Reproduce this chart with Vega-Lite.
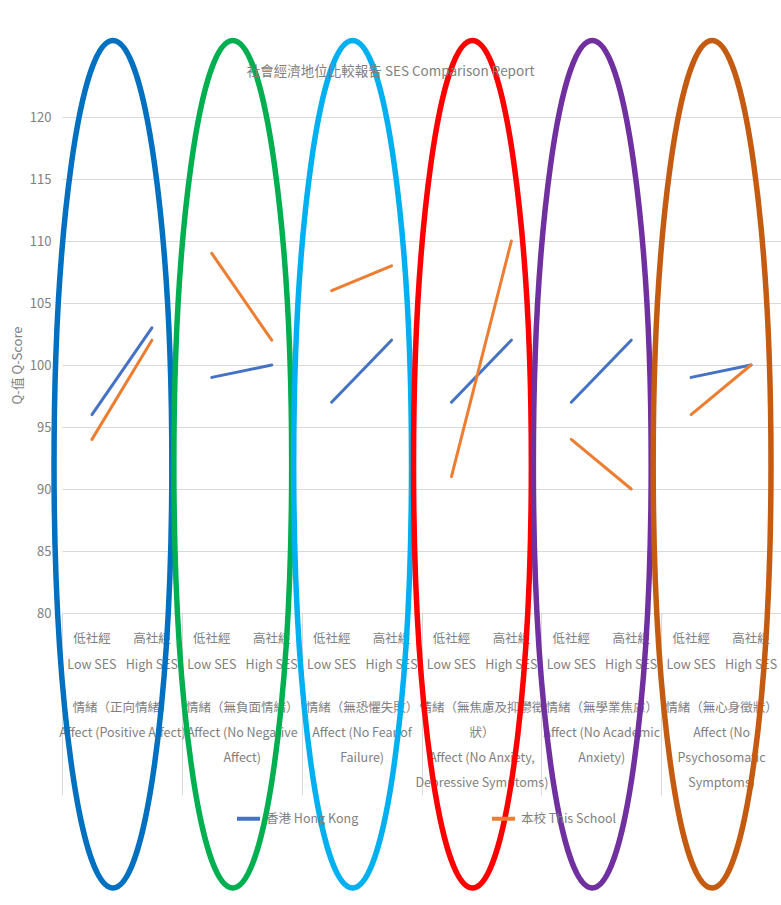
{
  "$schema": "https://vega.github.io/schema/vega-lite/v6.json",
  "width": 719,
  "height": 496,
  "autosize": "none",
  "padding": {"left": 62, "top": 117, "right": 0, "bottom": 292},
  "background": "white",
  "config": {
    "view": {"stroke": null},
    "font": "Arial Narrow, Liberation Sans Narrow, Noto Sans CJK TC, sans-serif"
  },
  "title": {
    "text": "社會經濟地位比較報告 SES Comparison Report",
    "fontSize": 13.5,
    "fontWeight": "normal",
    "color": "#7f7f7f",
    "anchor": "middle",
    "frame": "bounds",
    "offset": -49,
    "dx": -6
  },
  "data": {
    "values": [
      {"group": "情緒（正向情緒）\nAffect (Positive Affect)", "level": "低社經\nLow SES", "series": "香港 Hong Kong", "q": 96},
      {"group": "情緒（正向情緒）\nAffect (Positive Affect)", "level": "高社經\nHigh SES", "series": "香港 Hong Kong", "q": 103},
      {"group": "情緒（正向情緒）\nAffect (Positive Affect)", "level": "低社經\nLow SES", "series": "本校 This School", "q": 94},
      {"group": "情緒（正向情緒）\nAffect (Positive Affect)", "level": "高社經\nHigh SES", "series": "本校 This School", "q": 102},
      {"group": "情緒（無負面情緒）\nAffect (No Negative\nAffect)", "level": "低社經\nLow SES", "series": "香港 Hong Kong", "q": 99},
      {"group": "情緒（無負面情緒）\nAffect (No Negative\nAffect)", "level": "高社經\nHigh SES", "series": "香港 Hong Kong", "q": 100},
      {"group": "情緒（無負面情緒）\nAffect (No Negative\nAffect)", "level": "低社經\nLow SES", "series": "本校 This School", "q": 109},
      {"group": "情緒（無負面情緒）\nAffect (No Negative\nAffect)", "level": "高社經\nHigh SES", "series": "本校 This School", "q": 102},
      {"group": "情緒（無恐懼失敗）\nAffect (No Fear of\nFailure)", "level": "低社經\nLow SES", "series": "香港 Hong Kong", "q": 97},
      {"group": "情緒（無恐懼失敗）\nAffect (No Fear of\nFailure)", "level": "高社經\nHigh SES", "series": "香港 Hong Kong", "q": 102},
      {"group": "情緒（無恐懼失敗）\nAffect (No Fear of\nFailure)", "level": "低社經\nLow SES", "series": "本校 This School", "q": 106},
      {"group": "情緒（無恐懼失敗）\nAffect (No Fear of\nFailure)", "level": "高社經\nHigh SES", "series": "本校 This School", "q": 108},
      {"group": "情緒（無焦慮及抑鬱徵\n狀）\nAffect (No Anxiety,\nDepressive Symptoms)", "level": "低社經\nLow SES", "series": "香港 Hong Kong", "q": 97},
      {"group": "情緒（無焦慮及抑鬱徵\n狀）\nAffect (No Anxiety,\nDepressive Symptoms)", "level": "高社經\nHigh SES", "series": "香港 Hong Kong", "q": 102},
      {"group": "情緒（無焦慮及抑鬱徵\n狀）\nAffect (No Anxiety,\nDepressive Symptoms)", "level": "低社經\nLow SES", "series": "本校 This School", "q": 91},
      {"group": "情緒（無焦慮及抑鬱徵\n狀）\nAffect (No Anxiety,\nDepressive Symptoms)", "level": "高社經\nHigh SES", "series": "本校 This School", "q": 110},
      {"group": "情緒（無學業焦慮）\nAffect (No Academic\nAnxiety)", "level": "低社經\nLow SES", "series": "香港 Hong Kong", "q": 97},
      {"group": "情緒（無學業焦慮）\nAffect (No Academic\nAnxiety)", "level": "高社經\nHigh SES", "series": "香港 Hong Kong", "q": 102},
      {"group": "情緒（無學業焦慮）\nAffect (No Academic\nAnxiety)", "level": "低社經\nLow SES", "series": "本校 This School", "q": 94},
      {"group": "情緒（無學業焦慮）\nAffect (No Academic\nAnxiety)", "level": "高社經\nHigh SES", "series": "本校 This School", "q": 90},
      {"group": "情緒（無心身徵狀）\nAffect (No\nPsychosomatic\nSymptoms)", "level": "低社經\nLow SES", "series": "香港 Hong Kong", "q": 99},
      {"group": "情緒（無心身徵狀）\nAffect (No\nPsychosomatic\nSymptoms)", "level": "高社經\nHigh SES", "series": "香港 Hong Kong", "q": 100},
      {"group": "情緒（無心身徵狀）\nAffect (No\nPsychosomatic\nSymptoms)", "level": "低社經\nLow SES", "series": "本校 This School", "q": 96},
      {"group": "情緒（無心身徵狀）\nAffect (No\nPsychosomatic\nSymptoms)", "level": "高社經\nHigh SES", "series": "本校 This School", "q": 100}
    ]
  },
  "encoding": {
    "x": {
      "field": "group",
      "type": "nominal",
      "sort": null,
      "scale": {"type": "band", "paddingInner": 0, "paddingOuter": 0},
      "axis": {
        "title": null,
        "orient": "bottom",
        "domainColor": "#d9d9d9",
        "tickBand": "extent",
        "tickSize": 182,
        "tickColor": "#d9d9d9",
        "labelExpr": "isString(datum.value) ? split(datum.value, '\\n') : ''",
        "labelPadding": -94,
        "labelLineHeight": 25,
        "labelFontSize": 12.5,
        "labelColor": "#7f7f7f",
        "labelAngle": 0,
        "labelAlign": "center",
        "labelBaseline": "top",
        "labelLimit": 200
      }
    },
    "y": {
      "field": "q",
      "type": "quantitative",
      "scale": {"domain": [80, 120]},
      "axis": {
        "title": "Q-值 Q-Score",
        "values": [80, 85, 90, 95, 100, 105, 110, 115, 120],
        "grid": true,
        "gridColor": "#d9d9d9",
        "domain": false,
        "ticks": false,
        "labelPadding": 11,
        "labelFontSize": 13,
        "labelColor": "#7f7f7f",
        "titleFontSize": 13,
        "titleFontWeight": "normal",
        "titleColor": "#7f7f7f",
        "titlePadding": 5
      }
    }
  },
  "layer": [
    {
      "mark": {"type": "line", "strokeWidth": 3, "strokeCap": "round"},
      "encoding": {
        "xOffset": {"field": "level", "type": "nominal", "sort": ["低社經\nLow SES", "高社經\nHigh SES"], "scale": {"type": "point", "padding": 0.5}},
        "color": {
          "field": "series",
          "type": "nominal",
          "scale": {"domain": ["香港 Hong Kong", "本校 This School"], "range": ["#4472C4", "#ED7D31"]},
          "legend": {
            "title": null,
            "orient": "none",
            "legendX": 173,
            "legendY": 688,
            "direction": "horizontal",
            "symbolType": "stroke",
            "symbolSize": 529,
            "symbolStrokeWidth": 4,
            "labelFontSize": 12.5,
            "labelColor": "#7f7f7f",
            "labelOffset": 4,
            "columnPadding": 125,
            "padding": 0
          }
        },
        "detail": {"field": "group"}
      }
    },
    {
      "transform": [{"filter": "datum.series == '香港 Hong Kong'"}],
      "mark": {"type": "text", "baseline": "top", "dy": 20, "lineBreak": "\n", "lineHeight": 26, "fontSize": 12.5, "color": "#7f7f7f"},
      "encoding": {
        "xOffset": {"field": "level", "type": "nominal", "sort": ["低社經\nLow SES", "高社經\nHigh SES"], "scale": {"type": "point", "padding": 0.5}},
        "y": {"datum": 80},
        "text": {"field": "level"}
      }
    },
    {
      "transform": [{"filter": "datum.series == '香港 Hong Kong' && indexof(datum.level, 'Low') >= 0"}],
      "mark": {
        "type": "point",
        "shape": "M-0.0212,-1C0.0556,-1,0.1178,-0.5523,0.1178,0C0.1178,0.5523,0.0556,1,-0.0212,1C-0.098,1,-0.1602,0.5523,-0.1602,0C-0.1602,-0.5523,-0.098,-1,-0.0212,-1Z",
        "size": 718256,
        "filled": false,
        "strokeWidth": 5.5,
        "opacity": 1
      },
      "encoding": {
        "y": {"datum": 92},
        "stroke": {
          "field": "group",
          "type": "nominal",
          "sort": null,
          "scale": {"range": ["#0070C0", "#00B050", "#00B0F0", "#FF0000", "#7030A0", "#C55A11"]},
          "legend": null
        }
      }
    }
  ]
}
